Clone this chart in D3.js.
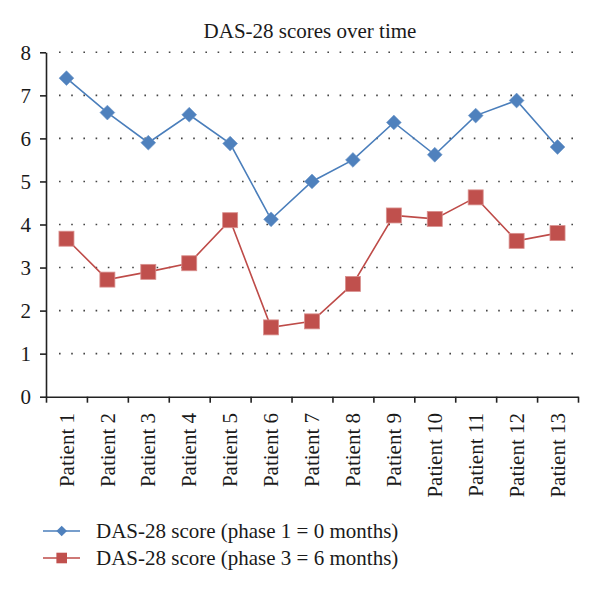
<!DOCTYPE html>
<html>
<head>
<meta charset="utf-8">
<script src="https://cdn.jsdelivr.net/npm/d3@7"></script>
<style>
  html, body { margin: 0; padding: 0; background: #fff; }
  svg { display: block; }
  text { font-family: "Liberation Serif", "Times New Roman", serif; fill: #1a1a1a; }
</style>
</head>
<body>
<svg id="chart" width="600" height="592"></svg>
<script>
const title = "DAS-28 scores over time";
const categories = ["Patient 1","Patient 2","Patient 3","Patient 4","Patient 5","Patient 6","Patient 7","Patient 8","Patient 9","Patient 10","Patient 11","Patient 12","Patient 13"];
const phase1 = [7.4, 6.6, 5.9, 6.55, 5.88, 4.12, 5.0, 5.5, 6.37, 5.62, 6.53, 6.88, 5.8];
const phase3 = [3.67, 2.72, 2.9, 3.1, 4.1, 1.61, 1.75, 2.62, 4.21, 4.13, 4.63, 3.62, 3.8];
const seriesNames = ["DAS-28 score (phase 1 = 0 months)", "DAS-28 score (phase 3 = 6 months)"];
const yTicks = [0, 1, 2, 3, 4, 5, 6, 7, 8];

const svg = d3.select("#chart");
const plotLeft = 46, plotRight = 578, plotTop = 52.3, plotBottom = 396.7;

const x = d3.scaleBand().domain(categories).range([plotLeft, plotRight]).padding(0);
const xb = d3.scaleLinear().domain([0, categories.length]).range([plotLeft, plotRight]);
const y = d3.scaleLinear().domain([0, 8]).range([plotBottom, plotTop]);

// grid
svg.append("g").selectAll("line").data(yTicks.filter(d => d > 0)).join("line")
  .attr("x1", 59).attr("x2", 576)
  .attr("y1", d => y(d)).attr("y2", d => y(d))
  .attr("stroke", "#444").attr("stroke-width", 1.6)
  .attr("stroke-dasharray", "1.6 10.6");

// y axis
const ya = svg.append("g").attr("transform", `translate(${plotLeft},0)`)
  .call(d3.axisLeft(y).tickValues(yTicks).tickSize(6).tickSizeOuter(0).tickPadding(9).tickFormat(d3.format("d")));
ya.select(".domain").attr("stroke", "#222").attr("stroke-width", 1.6);
ya.selectAll(".tick line").attr("stroke", "#222").attr("stroke-width", 1.6);
ya.selectAll(".tick text").style("font-size", "21px").style("font-family", "Liberation Serif, serif").attr("fill", "#1a1a1a");

// x axis
const xa = svg.append("g").attr("transform", `translate(0,${plotBottom})`)
  .call(d3.axisBottom(xb).tickValues(d3.range(categories.length + 1)).tickSize(6).tickSizeOuter(0).tickFormat(""));
xa.select(".domain").attr("stroke", "#222").attr("stroke-width", 1.6);
xa.selectAll(".tick line").attr("stroke", "#222").attr("stroke-width", 1.6);

// category labels
svg.append("g").selectAll("text").data(categories).join("text")
  .attr("transform", d => `translate(${x(d) + x.bandwidth() / 2},413) rotate(-90)`)
  .attr("text-anchor", "end").attr("dy", "0.34em")
  .style("font-size", "21px")
  .text(d => d);

// title
svg.append("text").attr("x", 310).attr("y", 38).attr("text-anchor", "middle")
  .style("font-size", "21px").text(title);

const cx = (d, i) => x(categories[i]) + x.bandwidth() / 2;
const line = d3.line().x((d, i) => x(categories[i]) + x.bandwidth() / 2).y(d => y(d));

const blue = "#4F81BD", red = "#C0504D";

svg.append("path").datum(phase3).attr("d", line).attr("fill", "none").attr("stroke", "#BE4B48").attr("stroke-width", 1.6);
svg.append("path").datum(phase1).attr("d", line).attr("fill", "none").attr("stroke", "#4A7EBB").attr("stroke-width", 1.6);

const sq = 15;
svg.append("g").selectAll("rect").data(phase3).join("rect")
  .attr("x", (d, i) => cx(d, i) - sq / 2).attr("y", d => y(d) - sq / 2)
  .attr("width", sq).attr("height", sq)
  .attr("fill", red).attr("stroke", "#D9908E").attr("stroke-width", 0.8);

const dm = 7.4;
const diamond = `M0,${-dm}L${dm},0L0,${dm}L${-dm},0Z`;
svg.append("g").selectAll("path").data(phase1).join("path")
  .attr("transform", (d, i) => `translate(${cx(d, i)},${y(d)})`)
  .attr("d", diamond)
  .attr("fill", blue).attr("stroke", "#6d97c9").attr("stroke-width", 0.6);

// legend
const legY = [531, 558];
const lg = svg.append("g");
lg.append("line").attr("x1", 43).attr("x2", 80).attr("y1", legY[0]).attr("y2", legY[0]).attr("stroke", "#4A7EBB").attr("stroke-width", 1.6);
lg.append("path").attr("transform", `translate(61.7,${legY[0]})`).attr("d", "M0,-5.3L5.3,0L0,5.3L-5.3,0Z").attr("fill", blue);
lg.append("line").attr("x1", 43).attr("x2", 80).attr("y1", legY[1]).attr("y2", legY[1]).attr("stroke", "#BE4B48").attr("stroke-width", 1.6);
lg.append("rect").attr("x", 61.7 - 5.3).attr("y", legY[1] - 5.3).attr("width", 10.6).attr("height", 10.6).attr("fill", red);
lg.selectAll("text").data(seriesNames).join("text")
  .attr("x", 96).attr("y", (d, i) => legY[i]).attr("dy", "0.33em")
  .style("font-size", "21px").text(d => d);
</script>
</body>
</html>
